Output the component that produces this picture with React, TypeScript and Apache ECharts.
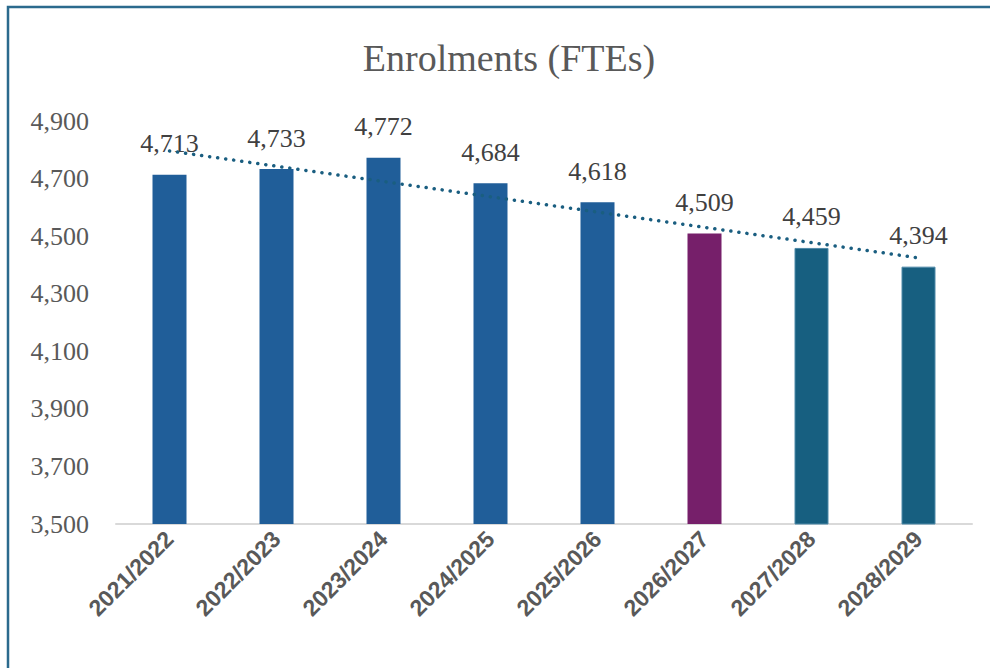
import React, { useEffect, useRef } from "react";
import * as echarts from "echarts";

const categories = ["2021/2022", "2022/2023", "2023/2024", "2024/2025", "2025/2026", "2026/2027", "2027/2028", "2028/2029"];
const enrolments = [4713, 4733, 4772, 4684, 4618, 4509, 4459, 4394];
const barColors = ["#205E99", "#205E99", "#205E99", "#205E99", "#205E99", "#761F6A", "#175F80", "#175F80"];
const yTicks = { min: 3500, max: 4900, interval: 200 };

// Linear least-squares trendline (as in the spreadsheet chart)
function trend(values: number[]): number[] {
  const n = values.length;
  const xs = values.map((_, i) => i + 1);
  const mx = xs.reduce((a, b) => a + b, 0) / n;
  const my = values.reduce((a, b) => a + b, 0) / n;
  let sxy = 0, sxx = 0;
  for (let i = 0; i < n; i++) {
    sxy += (xs[i] - mx) * (values[i] - my);
    sxx += (xs[i] - mx) * (xs[i] - mx);
  }
  const slope = sxy / sxx;
  return xs.map((x) => my + slope * (x - mx));
}

export default function App() {
  const ref = useRef<HTMLDivElement>(null);
  useEffect(() => {
    if (!ref.current) return;
    const chart = echarts.init(ref.current, undefined, { renderer: "svg" });
    const serif = "'Liberation Serif', 'Times New Roman', serif";
    chart.setOption({
      animation: false,
      backgroundColor: "#ffffff",
      title: {
        text: "Enrolments (FTEs)",
        left: 504,
        top: 34,
        textAlign: "center",
        textStyle: { fontFamily: serif, fontSize: 38, fontWeight: "normal", color: "#595959" },
      },
      graphic: [
        {
          type: "rect",
          shape: { x: 8, y: 7, width: 1100, height: 800 },
          style: { fill: "none", stroke: "#2B6A8D", lineWidth: 2.5 },
          silent: true,
          z: 100,
        },
      ],
      grid: { left: 116, right: 18, top: 121, bottom: 144, containLabel: false },
      xAxis: {
        type: "category",
        data: categories,
        axisLine: { lineStyle: { color: "#D9D9D9", width: 2 } },
        axisTick: { show: false },
        axisLabel: {
          rotate: 45,
          interval: 0,
          margin: 11,
          fontFamily: "'Liberation Sans', Arial, sans-serif",
          fontWeight: "bold",
          fontSize: 23,
          color: "#595959",
        },
      },
      yAxis: {
        type: "value",
        min: yTicks.min,
        max: yTicks.max,
        interval: yTicks.interval,
        splitLine: { show: false },
        axisLine: { show: false },
        axisTick: { show: false },
        axisLabel: {
          margin: 27,
          fontFamily: serif,
          fontSize: 26,
          color: "#595959",
          formatter: (v: number) => v.toLocaleString("en-US"),
        },
      },
      series: [
        {
          type: "bar",
          barWidth: 34,
          data: enrolments.map((v, i) => ({
            value: v,
            itemStyle: {
              color: barColors[i],
              borderColor: i >= 6 ? "#4F8AA8" : barColors[i],
              borderWidth: i >= 6 ? 1 : 0,
            },
          })),
          label: {
            show: true,
            position: "top",
            distance: 18,
            fontFamily: serif,
            fontSize: 26,
            color: "#404040",
            formatter: (p: any) => Number(p.value).toLocaleString("en-US"),
          },
          z: 2,
        },
        {
          type: "line",
          data: trend(enrolments),
          showSymbol: false,
          symbol: "none",
          lineStyle: { color: "#1A5E80", width: 3.5, type: [0.1, 8], cap: "round" },
          z: 5,
          silent: true,
        },
      ],
    });
    return () => chart.dispose();
  }, []);
  return (
    <div
      ref={ref}
      style={{ position: "fixed", left: 0, top: 0, width: 990, height: 668 }}
    />
  );
}
